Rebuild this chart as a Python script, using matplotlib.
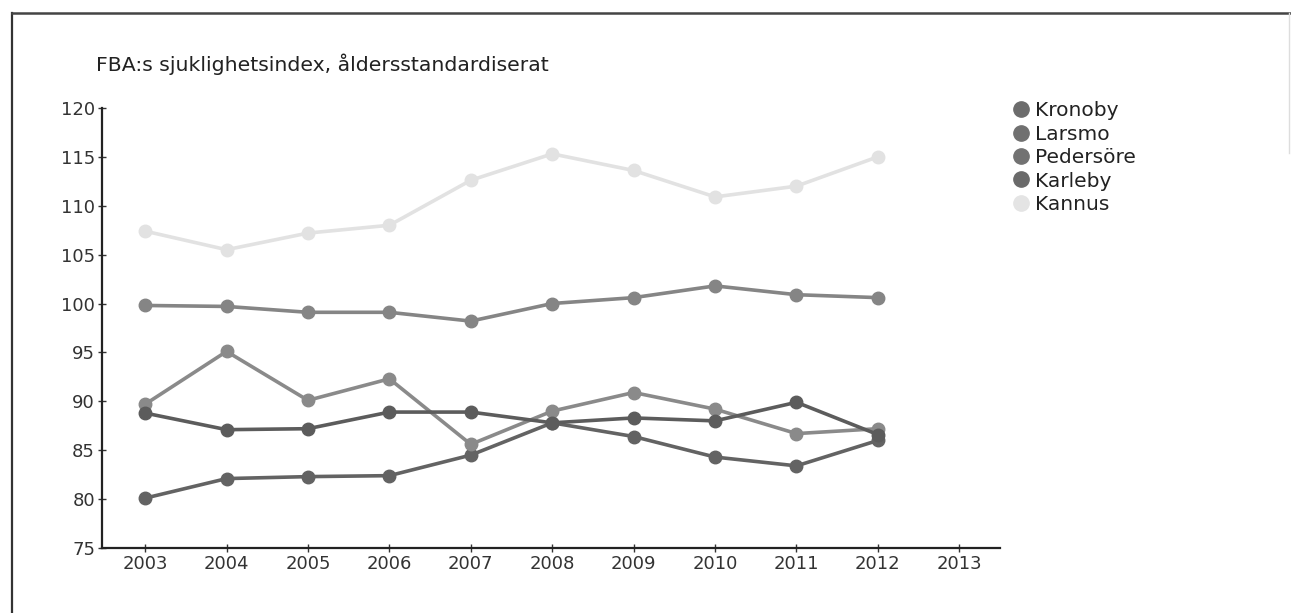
import numpy as np
from matplotlib import pyplot as plt
from matplotlib.lines import Line2D

years = [2003, 2004, 2005, 2006, 2007, 2008, 2009, 2010, 2011, 2012]
kronoby = [80.1, 82.1, 82.3, 82.4, 84.5, 87.8, 86.4, 84.3, 83.4, 86.0]
larsmo = [89.7, 95.1, 90.1, 92.3, 85.6, 89.0, 90.9, 89.2, 86.7, 87.2]
pedersore = [99.8, 99.7, 99.1, 99.1, 98.2, 100.0, 100.6, 101.8, 100.9, 100.6]
karleby = [88.8, 87.1, 87.2, 88.9, 88.9, 87.8, 88.3, 88.0, 89.9, 86.6]
kannus = [107.4, 105.5, 107.2, 108.0, 112.6, 115.3, 113.6, 110.9, 112.0, 115.0]

names = ['Kronoby', 'Larsmo', 'Pedersöre', 'Karleby', 'Kannus']
series = [kronoby, larsmo, pedersore, karleby, kannus]
colors = ['#636363', '#8a8a8a', '#858585', '#5c5c5c', '#e2e2e2']
legend_colors = ['#6c6c6c', '#707070', '#727272', '#6a6a6a', '#e4e4e4']
xticks = list(range(2003, 2014))
yticks = list(range(75, 121, 5))

plt.rcParams['font.family'] = ['DejaVu Sans']
fig = plt.figure(figsize=(12.91, 6.13), dpi=100)
ax = fig.add_axes([0.079, 0.106, 0.6956, 0.718])

for vals, c in zip(series, colors):
    ax.plot(years, vals, color=c, lw=2.6, marker='o', ms=9, mec=c, mfc=c, zorder=3)

ax.set_xlim(2002.47, 2013.5)
ax.set_ylim(75, 120)
ax.set_xticks(xticks)
ax.set_yticks(yticks)
ax.tick_params(axis='both', direction='inout', length=6, width=1, color='#333333',
               labelsize=13, labelcolor='#333333', pad=2)
for s in ['top', 'right']:
    ax.spines[s].set_visible(False)
for s in ['left', 'bottom']:
    ax.spines[s].set_color('#222222')
    ax.spines[s].set_linewidth(1.6)

fig.text(0.074, 0.895, 'FBA:s sjuklighetsindex, åldersstandardiserat',
         fontsize=14.7, color='#222222', va='center')

handles = [Line2D([], [], ls='none', marker='o', ms=11, mfc=c, mec=c) for c in legend_colors]
leg = fig.legend(handles, names, loc='upper left', bbox_to_anchor=(0.779, 0.848),
                 frameon=False, fontsize=14.5, handlelength=0.7, handletextpad=0.35,
                 labelspacing=0.22, borderaxespad=0)
for t in leg.get_texts():
    t.set_color('#222222')

# ram runt figuren
fig.add_artist(Line2D([0.009, 0.009], [0, 0.978], color='#333333', lw=1.6))
fig.add_artist(Line2D([0.009, 1.0], [0.978, 0.978], color='#444444', lw=1.8))
fig.add_artist(Line2D([0.9985, 0.9985], [0.75, 0.978], color='#dddddd', lw=1))

fig.savefig('out.png', dpi=100)
